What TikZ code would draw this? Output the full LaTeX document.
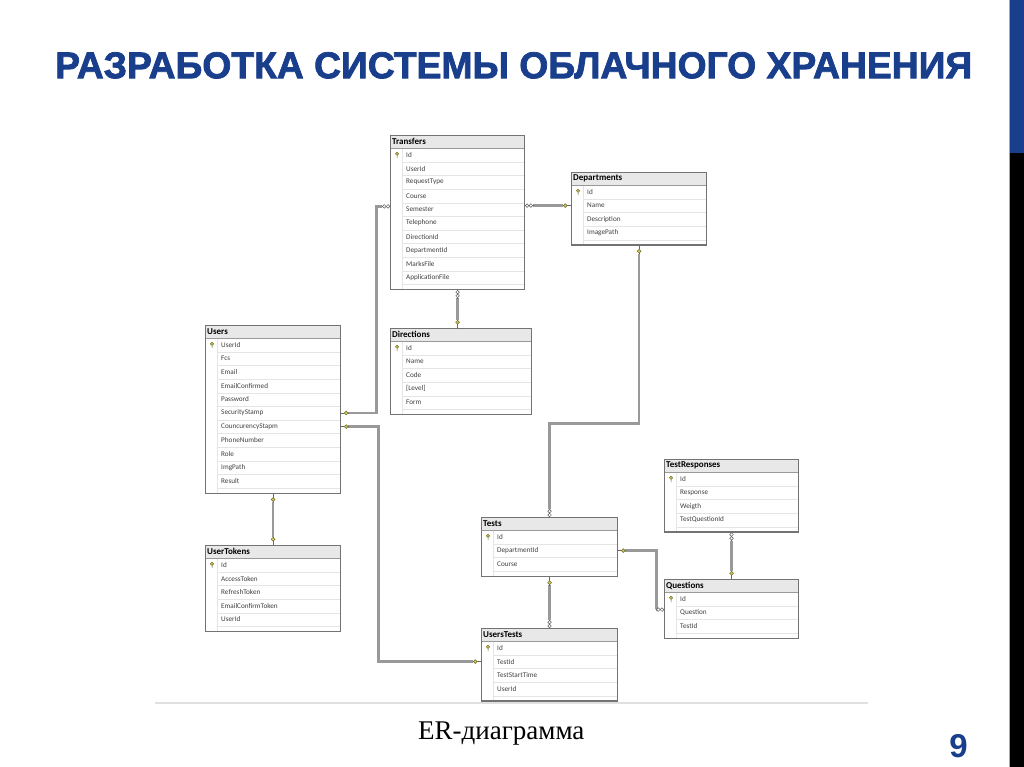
\documentclass[tikz,border=0pt]{standalone}
\usepackage{fontspec}
\usepackage{graphicx}
\usepackage{tikz}
\newfontfamily\titlefont[BoldFeatures={FakeBold=2}]{Liberation Sans}
\newfontfamily\numfont{Liberation Sans}
\newfontfamily\capfont{Liberation Serif}
\newfontfamily\tblfont{Carlito}
\definecolor{titleblue}{RGB}{25,62,140}
\definecolor{keyyellow}{RGB}{214,206,90}

\tikzset{
  tblframe/.style={draw=black!55, line width=1.1pt, inner sep=0pt},
  tblhead/.style={fill=black!9, inner xsep=2pt, inner ysep=0pt, minimum height=13pt, font=\tblfont\bfseries\fontsize{9}{10}\selectfont, align=left},
  tblrow/.style={inner xsep=0pt, inner ysep=0pt, minimum height=13.6pt, text=black!75, font=\tblfont\fontsize{7.2}{8}\selectfont, align=left},
  tblline/.style={draw=black!10, line width=.5pt},
  link/.style={draw=black!40, line width=2.4pt, shorten <=8pt, shorten >=8pt},
  pics/keymark/.style={code={
    \draw[black!60, line width=.5pt] (0,0) -- (#1:3.9pt);
    \draw[draw=olive!70!black, fill=keyyellow, line width=.5pt] (#1:5.8pt) circle (1.9pt);
    \draw[black!60, line width=.5pt] (#1:7.7pt) -- (#1:8.5pt);}},
  pics/manymark/.style={code={
    \draw[black!65, fill=white, line width=.5pt] (#1:2pt) circle (1.8pt) (#1:5.8pt) circle (1.8pt);
    \draw[black!60, line width=.5pt] (#1:7.6pt) -- (#1:8.5pt);}}
}

% table: name, x, y, width, rows, title, fields
\newcommand{\ertable}[7]{%
  \pgfmathsetmacro{\tblh}{13+#5*13.6+5}
  \pgfmathsetmacro{\headw}{#4-4}
  \node[tblhead, text width=\headw pt, anchor=north west] (#1-h) at (#2,#3) {#6};
  \foreach \f [count=\i] in {#7} {
    \node[tblrow, text width=#4 pt, anchor=north west] (#1-\i) at (#2,#3+13+\i*13.6-13.6) {\hspace*{16pt}\f};
    \draw[tblline] ([xshift=12pt]#1-\i.south west) -- (#1-\i.south east);
  }
  \draw[tblline] (#2+12,#3+13) -- (#2+12,#3+\tblh);
  \draw[black!40, line width=.4pt] (#2,#3+13) -- (#2+#4,#3+13);
  \fill[keyyellow] ([xshift=7pt,yshift=1.2pt]#1-1.west) circle (1.6pt);
  \draw[olive!70!black, line width=.5pt] ([xshift=7pt,yshift=1.2pt]#1-1.west) circle (1.6pt) ++(0,-1.6pt) -- ++(0,-2.6pt);
  \node[tblframe, minimum width=#4, minimum height=\tblh, anchor=north west] (#1) at (#2,#3) {};
}

\begin{document}
\begin{tikzpicture}[x=1pt,y=-1pt]
\useasboundingbox (0,0) rectangle (1024,767);
\fill[white] (0,0) rectangle (1024,767);
% slide frame
\fill[titleblue] (1010,0) rectangle (1024,153);
\fill[black] (1010,153) rectangle (1024,767);
\draw[black!35, line width=.8pt] (1009.5,0) -- (1009.5,767);
\node[anchor=north west, inner sep=0pt, text=titleblue] (title) at (55,52)
  {\resizebox{917pt}{26pt}{\titlefont\bfseries РАЗРАБОТКА СИСТЕМЫ ОБЛАЧНОГО ХРАНЕНИЯ}};

% tables
\ertable{transfers}{390}{135}{134}{10}{Transfers}{Id,UserId,RequestType,Course,Semester,Telephone,DirectionId,DepartmentId,MarksFile,ApplicationFile}
\ertable{departments}{571}{172}{135}{4}{Departments}{Id,Name,Description,ImagePath}
\ertable{directions}{390}{328}{141}{5}{Directions}{Id,Name,Code,{[Level]},Form}
\ertable{users}{205}{325}{135}{11}{Users}{UserId,Fcs,Email,EmailConfirmed,Password,SecurityStamp,CouncurencyStapm,PhoneNumber,Role,ImgPath,Result}
\ertable{usertokens}{205}{545}{135}{5}{UserTokens}{Id,AccessToken,RefreshToken,EmailConfirmToken,UserId}
\ertable{tests}{481}{517}{136}{3}{Tests}{Id,DepartmentId,Course}
\ertable{userstests}{481}{628}{136}{4}{UsersTests}{Id,TestId,TestStartTime,UserId}
\ertable{testresponses}{664}{459}{134}{4}{TestResponses}{Id,Response,Weigth,TestQuestionId}
\ertable{questions}{664}{579}{134}{3}{Questions}{Id,Question,TestId}

% relations
\draw[link] (users-6.east) -- ++(36,0) |- ([yshift=3pt]transfers-5.west);
\draw[link] (users-7.east) -- ++(38,0) |- (userstests-2.west);
\draw[link] (transfers.east |- departments-2.west) -- (departments-2.west);
\draw[link] (transfers.south) -- (transfers.south |- directions.north);
\draw[link] (departments.south) -- ++(0,178) -| (tests.north);
\draw[link] (tests.south) -- (userstests.north);
\draw[link] (tests-2.east) -- ++(39,0) |- ([yshift=3pt]questions-2.west);
\draw[link] (testresponses.south) -- (questions.north);
\draw[link] (users.south) -- (usertokens.north);

\pic at (users-6.east) {keymark=0};
\pic at ([yshift=3pt]transfers-5.west) {manymark=180};
\pic at (users-7.east) {keymark=0};
\pic at (userstests-2.west) {keymark=180};
\pic at (transfers.east |- departments-2.west) {manymark=0};
\pic at (departments-2.west) {keymark=180};
\pic at (transfers.south) {manymark=270};
\pic at (transfers.south |- directions.north) {keymark=90};
\pic at (departments.south) {keymark=270};
\pic at (tests.north) {manymark=90};
\pic at (tests.south) {keymark=270};
\pic at (userstests.north) {manymark=90};
\pic at (tests-2.east) {keymark=0};
\pic at ([yshift=3pt]questions-2.west) {manymark=180};
\pic at (testresponses.south) {manymark=270};
\pic at (questions.north) {keymark=90};
\pic at (users.south) {keymark=270};
\pic at (usertokens.north) {keymark=90};

% footer
\draw[black!12, line width=1.2pt] (155,703) -- (868,703);
\node[anchor=base west, inner sep=0pt, font=\capfont\fontsize{27}{27}\selectfont] (caption) at (418,739) {ER-диаграмма};
\node[anchor=base east, inner sep=0pt, text=titleblue, font=\numfont\bfseries\fontsize{33}{33}\selectfont] (pagenum) at (968,757) {9};
\end{tikzpicture}
\end{document}
